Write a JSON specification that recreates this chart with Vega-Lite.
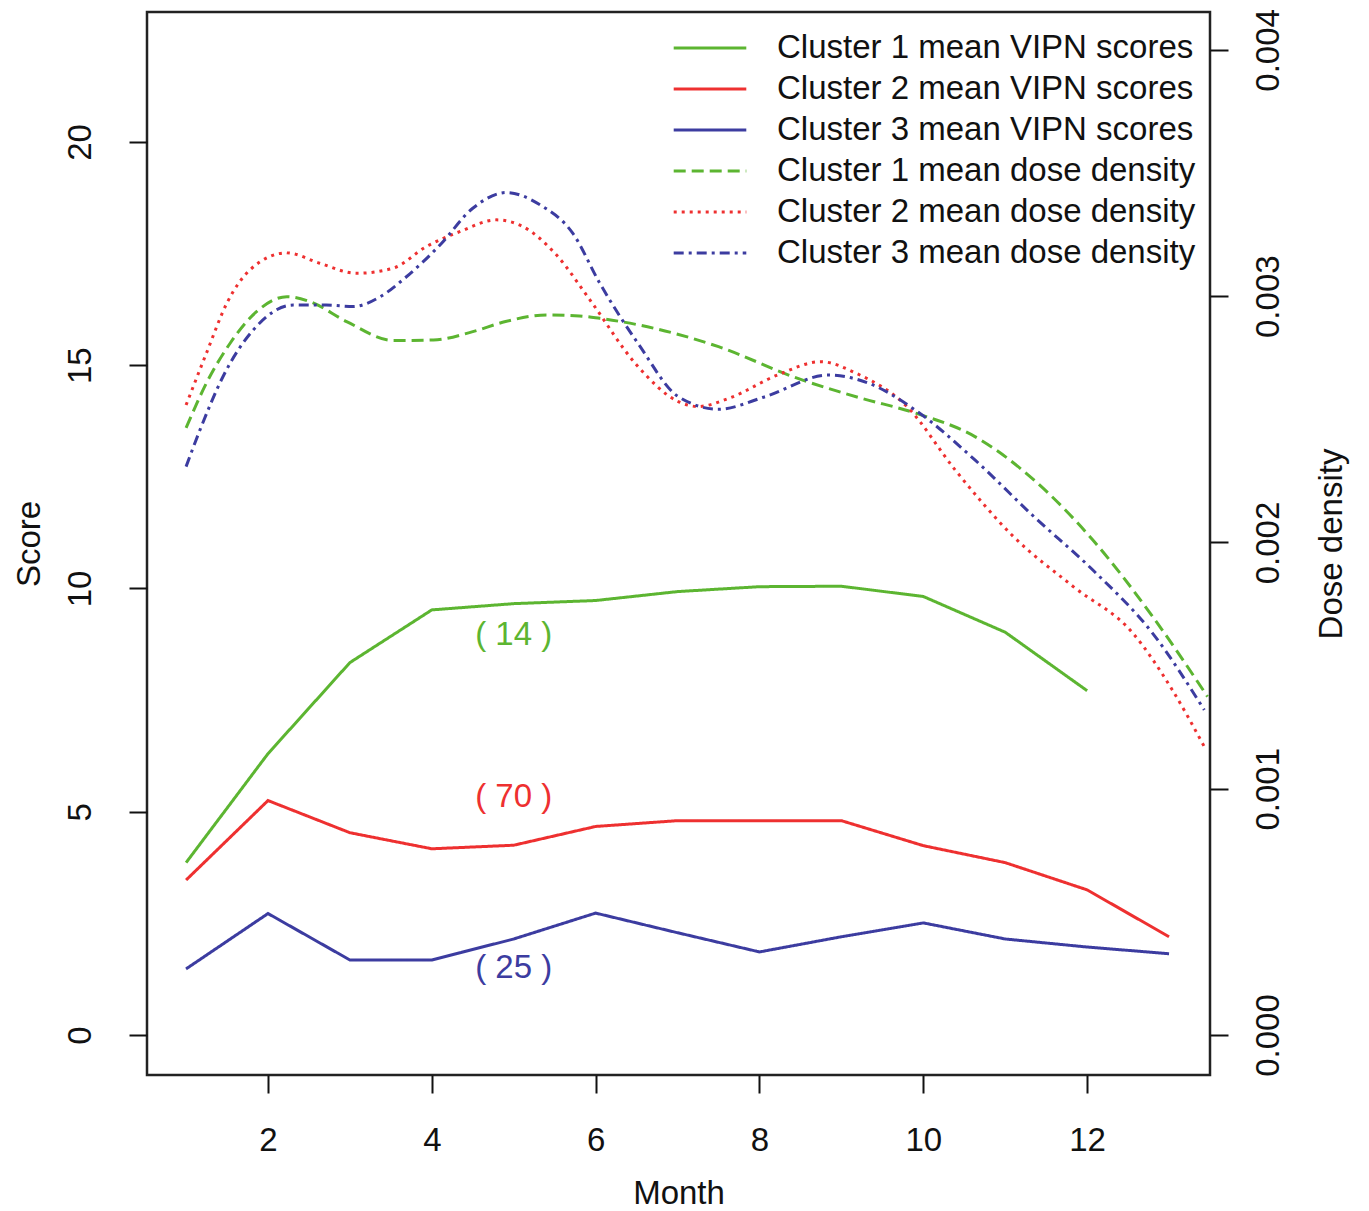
{
  "$schema": "https://vega.github.io/schema/vega-lite/v6.json",
  "width": 1063,
  "height": 1063,
  "autosize": "none",
  "padding": {"left": 147, "top": 12, "right": 159, "bottom": 136},
  "background": "white",
  "datasets": {
    "scores": [
      {"series": "Cluster 1 mean VIPN scores", "month": 1, "score": 3.86},
      {"series": "Cluster 1 mean VIPN scores", "month": 2, "score": 6.3},
      {"series": "Cluster 1 mean VIPN scores", "month": 3, "score": 8.34},
      {"series": "Cluster 1 mean VIPN scores", "month": 4, "score": 9.52},
      {"series": "Cluster 1 mean VIPN scores", "month": 5, "score": 9.66},
      {"series": "Cluster 1 mean VIPN scores", "month": 6, "score": 9.73},
      {"series": "Cluster 1 mean VIPN scores", "month": 7, "score": 9.93},
      {"series": "Cluster 1 mean VIPN scores", "month": 8, "score": 10.04},
      {"series": "Cluster 1 mean VIPN scores", "month": 9, "score": 10.05},
      {"series": "Cluster 1 mean VIPN scores", "month": 10, "score": 9.82},
      {"series": "Cluster 1 mean VIPN scores", "month": 11, "score": 9.02},
      {"series": "Cluster 1 mean VIPN scores", "month": 12, "score": 7.71},
      {"series": "Cluster 2 mean VIPN scores", "month": 1, "score": 3.47},
      {"series": "Cluster 2 mean VIPN scores", "month": 2, "score": 5.25},
      {"series": "Cluster 2 mean VIPN scores", "month": 3, "score": 4.53},
      {"series": "Cluster 2 mean VIPN scores", "month": 4, "score": 4.17},
      {"series": "Cluster 2 mean VIPN scores", "month": 5, "score": 4.25},
      {"series": "Cluster 2 mean VIPN scores", "month": 6, "score": 4.67},
      {"series": "Cluster 2 mean VIPN scores", "month": 7, "score": 4.8},
      {"series": "Cluster 2 mean VIPN scores", "month": 8, "score": 4.8},
      {"series": "Cluster 2 mean VIPN scores", "month": 9, "score": 4.8},
      {"series": "Cluster 2 mean VIPN scores", "month": 10, "score": 4.24},
      {"series": "Cluster 2 mean VIPN scores", "month": 11, "score": 3.86},
      {"series": "Cluster 2 mean VIPN scores", "month": 12, "score": 3.25},
      {"series": "Cluster 2 mean VIPN scores", "month": 13, "score": 2.2},
      {"series": "Cluster 3 mean VIPN scores", "month": 1, "score": 1.48},
      {"series": "Cluster 3 mean VIPN scores", "month": 2, "score": 2.72},
      {"series": "Cluster 3 mean VIPN scores", "month": 3, "score": 1.68},
      {"series": "Cluster 3 mean VIPN scores", "month": 4, "score": 1.68},
      {"series": "Cluster 3 mean VIPN scores", "month": 5, "score": 2.15},
      {"series": "Cluster 3 mean VIPN scores", "month": 6, "score": 2.73},
      {"series": "Cluster 3 mean VIPN scores", "month": 7, "score": 2.29},
      {"series": "Cluster 3 mean VIPN scores", "month": 8, "score": 1.86},
      {"series": "Cluster 3 mean VIPN scores", "month": 9, "score": 2.2},
      {"series": "Cluster 3 mean VIPN scores", "month": 10, "score": 2.51},
      {"series": "Cluster 3 mean VIPN scores", "month": 11, "score": 2.15},
      {"series": "Cluster 3 mean VIPN scores", "month": 12, "score": 1.97},
      {"series": "Cluster 3 mean VIPN scores", "month": 13, "score": 1.82}
    ],
    "dose": [
      {"series": "Cluster 1 mean dose density", "month": 1, "dose": 0.002465},
      {"series": "Cluster 1 mean dose density", "month": 1.25, "dose": 0.002648},
      {"series": "Cluster 1 mean dose density", "month": 1.54, "dose": 0.00281},
      {"series": "Cluster 1 mean dose density", "month": 1.86, "dose": 0.002937},
      {"series": "Cluster 1 mean dose density", "month": 2.23, "dose": 0.002998},
      {"series": "Cluster 1 mean dose density", "month": 2.51, "dose": 0.002978},
      {"series": "Cluster 1 mean dose density", "month": 2.96, "dose": 0.002897},
      {"series": "Cluster 1 mean dose density", "month": 3.53, "dose": 0.00282},
      {"series": "Cluster 1 mean dose density", "month": 4.02, "dose": 0.002822},
      {"series": "Cluster 1 mean dose density", "month": 4.5, "dose": 0.002856},
      {"series": "Cluster 1 mean dose density", "month": 4.9, "dose": 0.002897},
      {"series": "Cluster 1 mean dose density", "month": 5.4, "dose": 0.002924},
      {"series": "Cluster 1 mean dose density", "month": 5.8, "dose": 0.00292},
      {"series": "Cluster 1 mean dose density", "month": 6.05, "dose": 0.00291},
      {"series": "Cluster 1 mean dose density", "month": 6.53, "dose": 0.002883},
      {"series": "Cluster 1 mean dose density", "month": 7.5, "dose": 0.002795},
      {"series": "Cluster 1 mean dose density", "month": 8.46, "dose": 0.002667},
      {"series": "Cluster 1 mean dose density", "month": 9.23, "dose": 0.002587},
      {"series": "Cluster 1 mean dose density", "month": 9.9, "dose": 0.002526},
      {"series": "Cluster 1 mean dose density", "month": 10.63, "dose": 0.00243},
      {"series": "Cluster 1 mean dose density", "month": 11.35, "dose": 0.002254},
      {"series": "Cluster 1 mean dose density", "month": 12.07, "dose": 0.00201},
      {"series": "Cluster 1 mean dose density", "month": 12.8, "dose": 0.001699},
      {"series": "Cluster 1 mean dose density", "month": 13.47, "dose": 0.001374},
      {"series": "Cluster 2 mean dose density", "month": 1, "dose": 0.002558},
      {"series": "Cluster 2 mean dose density", "month": 1.25, "dose": 0.00277},
      {"series": "Cluster 2 mean dose density", "month": 1.5, "dose": 0.002973},
      {"series": "Cluster 2 mean dose density", "month": 1.78, "dose": 0.003107},
      {"series": "Cluster 2 mean dose density", "month": 2.23, "dose": 0.003176},
      {"series": "Cluster 2 mean dose density", "month": 2.63, "dose": 0.003134},
      {"series": "Cluster 2 mean dose density", "month": 3.08, "dose": 0.003093},
      {"series": "Cluster 2 mean dose density", "month": 3.53, "dose": 0.003114},
      {"series": "Cluster 2 mean dose density", "month": 3.93, "dose": 0.003201},
      {"series": "Cluster 2 mean dose density", "month": 4.34, "dose": 0.003262},
      {"series": "Cluster 2 mean dose density", "month": 4.79, "dose": 0.00331},
      {"series": "Cluster 2 mean dose density", "month": 5.11, "dose": 0.003283},
      {"series": "Cluster 2 mean dose density", "month": 5.52, "dose": 0.003168},
      {"series": "Cluster 2 mean dose density", "month": 5.93, "dose": 0.002985},
      {"series": "Cluster 2 mean dose density", "month": 6.5, "dose": 0.002721},
      {"series": "Cluster 2 mean dose density", "month": 7.01, "dose": 0.002572},
      {"series": "Cluster 2 mean dose density", "month": 7.25, "dose": 0.002552},
      {"series": "Cluster 2 mean dose density", "month": 7.63, "dose": 0.002586},
      {"series": "Cluster 2 mean dose density", "month": 8.22, "dose": 0.00268},
      {"series": "Cluster 2 mean dose density", "month": 8.75, "dose": 0.002734},
      {"series": "Cluster 2 mean dose density", "month": 9.18, "dose": 0.002687},
      {"series": "Cluster 2 mean dose density", "month": 9.8, "dose": 0.002552},
      {"series": "Cluster 2 mean dose density", "month": 10.39, "dose": 0.002294},
      {"series": "Cluster 2 mean dose density", "month": 11.1, "dose": 0.002024},
      {"series": "Cluster 2 mean dose density", "month": 11.83, "dose": 0.001821},
      {"series": "Cluster 2 mean dose density", "month": 12.56, "dose": 0.001631},
      {"series": "Cluster 2 mean dose density", "month": 13.04, "dose": 0.001401},
      {"series": "Cluster 2 mean dose density", "month": 13.43, "dose": 0.001171},
      {"series": "Cluster 3 mean dose density", "month": 1, "dose": 0.002308},
      {"series": "Cluster 3 mean dose density", "month": 1.17, "dose": 0.002457},
      {"series": "Cluster 3 mean dose density", "month": 1.45, "dose": 0.002673},
      {"series": "Cluster 3 mean dose density", "month": 1.82, "dose": 0.002863},
      {"series": "Cluster 3 mean dose density", "month": 2.31, "dose": 0.002964},
      {"series": "Cluster 3 mean dose density", "month": 2.71, "dose": 0.002964},
      {"series": "Cluster 3 mean dose density", "month": 3.04, "dose": 0.002958},
      {"series": "Cluster 3 mean dose density", "month": 3.37, "dose": 0.002998},
      {"series": "Cluster 3 mean dose density", "month": 3.69, "dose": 0.003079},
      {"series": "Cluster 3 mean dose density", "month": 4.1, "dose": 0.003208},
      {"series": "Cluster 3 mean dose density", "month": 4.5, "dose": 0.003357},
      {"series": "Cluster 3 mean dose density", "month": 4.91, "dose": 0.003421},
      {"series": "Cluster 3 mean dose density", "month": 5.32, "dose": 0.003371},
      {"series": "Cluster 3 mean dose density", "month": 5.72, "dose": 0.003256},
      {"series": "Cluster 3 mean dose density", "month": 6.05, "dose": 0.003053},
      {"series": "Cluster 3 mean dose density", "month": 6.53, "dose": 0.002802},
      {"series": "Cluster 3 mean dose density", "month": 7.01, "dose": 0.002592},
      {"series": "Cluster 3 mean dose density", "month": 7.5, "dose": 0.002541},
      {"series": "Cluster 3 mean dose density", "month": 8.07, "dose": 0.002592},
      {"series": "Cluster 3 mean dose density", "month": 8.84, "dose": 0.00268},
      {"series": "Cluster 3 mean dose density", "month": 9.33, "dose": 0.002647},
      {"series": "Cluster 3 mean dose density", "month": 9.9, "dose": 0.002538},
      {"series": "Cluster 3 mean dose density", "month": 10.63, "dose": 0.002335},
      {"series": "Cluster 3 mean dose density", "month": 11.35, "dose": 0.002105},
      {"series": "Cluster 3 mean dose density", "month": 12.07, "dose": 0.001888},
      {"series": "Cluster 3 mean dose density", "month": 12.8, "dose": 0.001631},
      {"series": "Cluster 3 mean dose density", "month": 13.43, "dose": 0.00132}
    ],
    "labels": [
      {"cluster": 1, "month": 5, "score": 8.96, "label": "( 14 )"},
      {"cluster": 2, "month": 5, "score": 5.33, "label": "( 70 )"},
      {"cluster": 3, "month": 5, "score": 1.5, "label": "( 25 )"}
    ]
  },
  "layer": [
    {
      "layer": [
        {
          "data": {"name": "scores"},
          "mark": {"type": "line", "strokeWidth": 3, "clip": true},
          "encoding": {
            "x": {"field": "month", "type": "quantitative", "title": "Month",
                  "scale": {"domain": [0.523, 13.5], "nice": false, "zero": false},
                  "axis": {"values": [2, 4, 6, 8, 10, 12], "format": "d", "labelPadding": 31, "titlePadding": 20}},
            "y": {"field": "score", "type": "quantitative", "title": "Score",
                  "scale": {"domain": [-0.896, 22.91], "nice": false, "zero": false},
                  "axis": {"values": [0, 5, 10, 15, 20], "format": "d", "labelAngle": 270, "labelAlign": "center", "labelBaseline": "bottom", "labelPadding": 32, "titleAngle": 270, "titlePadding": 18}},
            "color": {"field": "series", "type": "nominal", "title": null,
                      "scale": {"domain": ["Cluster 1 mean VIPN scores", "Cluster 2 mean VIPN scores", "Cluster 3 mean VIPN scores", "Cluster 1 mean dose density", "Cluster 2 mean dose density", "Cluster 3 mean dose density"],
                                "range": ["#5cb531", "#ee3030", "#3c3ca0", "#5cb531", "#ee3030", "#3c3ca0"]}},
            "strokeDash": {"field": "series", "type": "nominal", "title": null,
                      "scale": {"domain": ["Cluster 1 mean VIPN scores", "Cluster 2 mean VIPN scores", "Cluster 3 mean VIPN scores", "Cluster 1 mean dose density", "Cluster 2 mean dose density", "Cluster 3 mean dose density"],
                                "range": [[1, 0], [1, 0], [1, 0], [12, 6], [3, 5], [10, 5, 3, 5]]}}
          }
        },
        {
          "data": {"name": "labels"},
          "transform": [{"filter": "datum.cluster == 1"}],
          "mark": {"type": "text", "color": "#5cb531", "fontSize": 33, "font": "Liberation Sans"},
          "encoding": {"x": {"field": "month", "type": "quantitative"}, "y": {"field": "score", "type": "quantitative"}, "text": {"field": "label"}}
        },
        {
          "data": {"name": "labels"},
          "transform": [{"filter": "datum.cluster == 2"}],
          "mark": {"type": "text", "color": "#ee3030", "fontSize": 33, "font": "Liberation Sans"},
          "encoding": {"x": {"field": "month", "type": "quantitative"}, "y": {"field": "score", "type": "quantitative"}, "text": {"field": "label"}}
        },
        {
          "data": {"name": "labels"},
          "transform": [{"filter": "datum.cluster == 3"}],
          "mark": {"type": "text", "color": "#3c3ca0", "fontSize": 33, "font": "Liberation Sans"},
          "encoding": {"x": {"field": "month", "type": "quantitative"}, "y": {"field": "score", "type": "quantitative"}, "text": {"field": "label"}}
        }
      ]
    },
    {
      "data": {"name": "dose"},
      "mark": {"type": "line", "strokeWidth": 3, "clip": true, "interpolate": "monotone"},
      "encoding": {
        "x": {"field": "month", "type": "quantitative"},
        "y": {"field": "dose", "type": "quantitative", "title": "Dose density",
              "scale": {"domain": [-0.0001624, 0.004154], "nice": false, "zero": false},
              "axis": {"orient": "right", "values": [0, 0.001, 0.002, 0.003, 0.004], "format": ".3f", "labelAngle": 270, "labelAlign": "center", "labelBaseline": "top", "labelPadding": 24, "titleAngle": 270, "titleBaseline": "top", "titlePadding": 30}},
        "color": {"field": "series", "type": "nominal", "title": null},
        "strokeDash": {"field": "series", "type": "nominal", "title": null}
      }
    }
  ],
  "resolve": {"scale": {"y": "independent"}},
  "config": {
    "view": {"stroke": "#222222", "strokeWidth": 2.5},
    "font": "Liberation Sans",
    "axis": {
      "domain": false, "grid": false, "ticks": true, "tickSize": 18, "tickWidth": 2, "tickColor": "#111111",
      "labelFont": "Liberation Sans", "labelFontSize": 33, "labelColor": "#111111",
      "titleFont": "Liberation Sans", "titleFontSize": 33, "titleFontWeight": "normal", "titleColor": "#111111",
      "labelOverlap": false, "labelFlush": false
    },
    "legend": {
      "orient": "none", "legendX": 545, "legendY": 18,
      "symbolType": "M-2.2,0H2.2", "symbolSize": 1089, "symbolStrokeWidth": 3,
      "labelFont": "Liberation Sans", "labelFontSize": 33, "labelColor": "#111111", "labelLimit": 2000,
      "labelOffset": 49, "rowPadding": 6, "padding": 0
    }
  }
}
